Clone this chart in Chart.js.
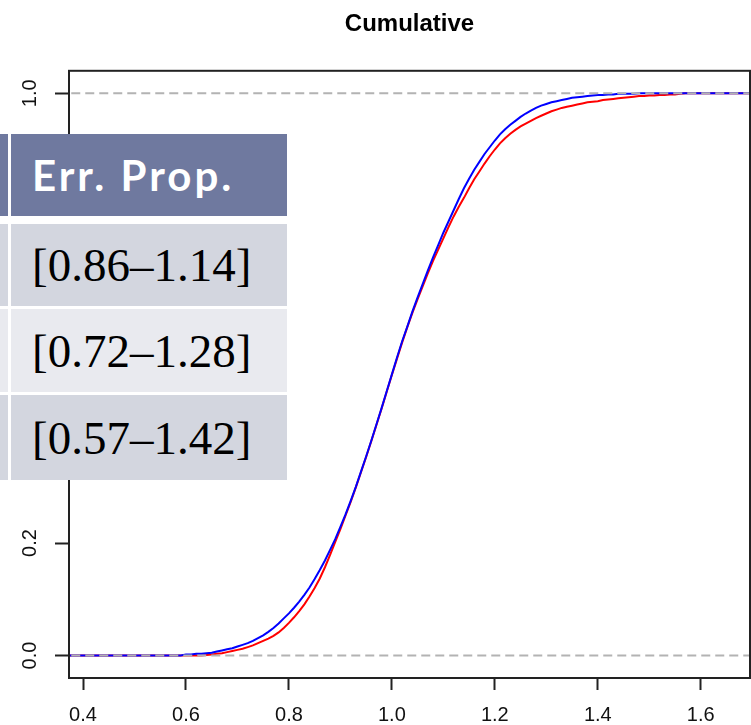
<!DOCTYPE html>
<html>
<head>
<meta charset="utf-8">
<title>Cumulative</title>
<script src="https://cdn.jsdelivr.net/npm/chart.js@4.4.1/dist/chart.umd.min.js"></script>
<style>
  html, body { margin: 0; padding: 0; background: #fff; }
  #wrap { position: relative; width: 751px; height: 725px; overflow: hidden; }
  #cdfChart { position: absolute; left: 0; top: 0; }
  #errTable { position: absolute; left: 0; top: 134px; width: 287px; height: 346px; background: #fff; }
  .cell { position: absolute; display: flex; align-items: center; box-sizing: border-box; padding-left: 21px; white-space: nowrap; }
  .stub { position: absolute; left: 0; width: 8px; }
  .head { background: #6f799f; color: #fff; font: bold 42px Lato, "Open Sans", sans-serif; letter-spacing: 3px; }
  .dark { background: #d3d6df; }
  .light { background: #e9eaef; }
  .val { color: #000; font: 47px "Liberation Serif", "Times New Roman", serif; }
</style>
</head>
<body>
<div id="wrap">
  <canvas id="cdfChart" width="751" height="725"></canvas>
  <div id="errTable"></div>
</div>
<script>
// axis ranges and ticks
const xMin = 0.3728, xMax = 1.6957;
const yMin = -0.04, yMax = 1.04;
const xTicks = [0.4, 0.6, 0.8, 1.0, 1.2, 1.4, 1.6];
const yTicks = [0.0, 0.2, 0.4, 0.6, 0.8, 1.0];
const refLevels = [0, 1];

// sample points of the two empirical CDFs
const cdfX = [
  0.37, 0.58, 0.59, 0.60, 0.61, 0.62, 0.63, 0.64, 0.65, 0.66, 0.67,
  0.68, 0.69, 0.70, 0.71, 0.72, 0.73, 0.74, 0.75, 0.76, 0.77,
  0.78, 0.79, 0.80, 0.81, 0.82, 0.83, 0.84, 0.85, 0.86, 0.87,
  0.88, 0.89, 0.90, 0.91, 0.92, 0.93, 0.94, 0.95, 0.96, 0.97,
  0.98, 0.99, 1.00, 1.01, 1.02, 1.03, 1.04, 1.05, 1.06, 1.07,
  1.08, 1.09, 1.10, 1.11, 1.12, 1.13, 1.14, 1.15, 1.16, 1.17,
  1.18, 1.19, 1.20, 1.21, 1.22, 1.23, 1.24, 1.25, 1.26, 1.27,
  1.28, 1.29, 1.30, 1.31, 1.32, 1.33, 1.34, 1.35, 1.36, 1.37,
  1.38, 1.39, 1.40, 1.41, 1.42, 1.43, 1.44, 1.45, 1.46, 1.47,
  1.48, 1.49, 1.50, 1.51, 1.52, 1.53, 1.54, 1.55, 1.56, 1.57,
  1.58, 1.70
];
const blueCdf = [
  0.000, 0.000, 0.000, 0.002, 0.002, 0.003, 0.003, 0.004, 0.005, 0.007, 0.009,
  0.011, 0.013, 0.016, 0.019, 0.022, 0.026, 0.031, 0.036, 0.042, 0.049,
  0.057, 0.066, 0.075, 0.085, 0.096, 0.108, 0.121, 0.136, 0.152, 0.169,
  0.188, 0.207, 0.229, 0.251, 0.275, 0.300, 0.327, 0.354, 0.382, 0.411,
  0.440, 0.470, 0.500, 0.530, 0.559, 0.585, 0.612, 0.637, 0.661, 0.685,
  0.708, 0.730, 0.752, 0.772, 0.792, 0.812, 0.831, 0.848, 0.864, 0.878,
  0.892, 0.904, 0.916, 0.927, 0.936, 0.944, 0.951, 0.958, 0.964, 0.969,
  0.974, 0.978, 0.981, 0.984, 0.986, 0.988, 0.990, 0.992, 0.993, 0.994,
  0.995, 0.996, 0.997, 0.997, 0.998, 0.998, 0.999, 0.999, 0.999, 0.999,
  1.000, 1.000, 1.000, 1.000, 1.000, 1.000, 1.000, 1.000, 1.000, 1.000,
  1.000, 1.000
];
const redCdf = [
  0.000, 0.000, 0.000, 0.000, 0.000, 0.000, 0.000, 0.001, 0.002, 0.003, 0.004,
  0.006, 0.008, 0.010, 0.012, 0.015, 0.018, 0.022, 0.026, 0.030, 0.035,
  0.041, 0.049, 0.058, 0.068, 0.079, 0.091, 0.105, 0.120, 0.137, 0.157,
  0.179, 0.202, 0.225, 0.249, 0.273, 0.299, 0.326, 0.353, 0.381, 0.410,
  0.439, 0.469, 0.499, 0.528, 0.557, 0.584, 0.610, 0.634, 0.657, 0.680,
  0.702, 0.722, 0.742, 0.762, 0.781, 0.798, 0.814, 0.831, 0.847, 0.861,
  0.875, 0.888, 0.900, 0.911, 0.920, 0.928, 0.935, 0.941, 0.946, 0.951,
  0.956, 0.960, 0.964, 0.968, 0.971, 0.974, 0.976, 0.978, 0.980, 0.982,
  0.984, 0.985, 0.986, 0.988, 0.989, 0.990, 0.991, 0.992, 0.993, 0.994,
  0.995, 0.995, 0.996, 0.996, 0.997, 0.997, 0.998, 0.998, 0.999, 1.000,
  1.000, 1.000
];

// overlay table text
const tableHead = 'Err. Prop.';
const tableRows = ['[0.86\u20131.14]', '[0.72\u20131.28]', '[0.57\u20131.42]'];

const sans = '"Liberation Sans", Arial, Helvetica, sans-serif';

function toPoints(xs, ys) {
  return xs.map((x, i) => ({ x: x, y: ys[i] }));
}

function fixedTicks(values) {
  return scale => { scale.ticks = values.map(v => ({ value: v })); };
}

// plot box + rotated y labels, drawn like base R graphics
const frameAndYLabels = {
  id: 'frameAndYLabels',
  afterDraw(chart) {
    const { ctx, chartArea: a, scales } = chart;
    ctx.save();
    ctx.strokeStyle = '#222';
    ctx.lineWidth = 2;
    ctx.strokeRect(a.left, a.top, a.right - a.left, a.bottom - a.top);
    ctx.fillStyle = '#111';
    ctx.font = '20px ' + sans;
    ctx.textAlign = 'center';
    ctx.textBaseline = 'middle';
    yTicks.forEach(v => {
      const py = scales.y.getPixelForValue(v);
      ctx.save();
      ctx.translate(30, py);
      ctx.rotate(-Math.PI / 2);
      ctx.fillText(v.toFixed(1), 0, 0);
      ctx.restore();
    });
    ctx.restore();
  }
};

const refDatasets = refLevels.map(lv => ({
  data: [{ x: xMin - 0.05, y: lv }, { x: xMax + 0.05, y: lv }],
  borderColor: '#b3b3b3',
  borderWidth: 2,
  borderDash: [9, 5],
  pointRadius: 0,
  order: 0
}));

new Chart(document.getElementById('cdfChart'), {
  type: 'line',
  data: {
    datasets: [
      ...refDatasets,
      {
        label: 'blue',
        data: toPoints(cdfX, blueCdf),
        borderColor: '#0000ff',
        borderWidth: 2,
        pointRadius: 0,
        tension: 0,
        order: 1
      },
      {
        label: 'red',
        data: toPoints(cdfX, redCdf),
        borderColor: '#ff0000',
        borderWidth: 2,
        pointRadius: 0,
        tension: 0,
        order: 2
      }
    ]
  },
  options: {
    responsive: false,
    animation: false,
    devicePixelRatio: 1,
    layout: { padding: { top: 0, right: 1, bottom: 0, left: 0 } },
    plugins: {
      legend: { display: false },
      tooltip: { enabled: false },
      title: {
        display: true,
        text: 'Cumulative',
        fullSize: false,
        color: '#000',
        font: { family: sans, size: 24, weight: 'bold', lineHeight: 1.2 },
        padding: { top: 10, bottom: 32 }
      }
    },
    scales: {
      x: {
        type: 'linear',
        min: xMin,
        max: xMax,
        afterBuildTicks: fixedTicks(xTicks),
        afterFit: s => { s.height = 47; },
        grid: { drawOnChartArea: false, drawTicks: true, tickLength: 12, tickColor: '#222', tickWidth: 2 },
        border: { display: true, color: '#222', width: 2 },
        ticks: {
          color: '#111',
          font: { family: sans, size: 20 },
          padding: 13,
          maxRotation: 0,
          autoSkip: false,
          callback: v => v.toFixed(1)
        }
      },
      y: {
        type: 'linear',
        min: yMin,
        max: yMax,
        afterBuildTicks: fixedTicks(yTicks),
        afterFit: s => { s.width = 69; },
        grid: { drawOnChartArea: false, drawTicks: true, tickLength: 14, tickColor: '#222', tickWidth: 2 },
        border: { display: true, color: '#222', width: 2 },
        ticks: { display: false }
      }
    }
  },
  plugins: [frameAndYLabels]
});

// table laid over the left part of the plot
const table = document.getElementById('errTable');
const rowBoxes = [
  { top: 0, height: 82, cls: 'head' },
  { top: 90, height: 82, cls: 'dark' },
  { top: 175, height: 83, cls: 'light' },
  { top: 261, height: 85, cls: 'dark' }
];
[tableHead, ...tableRows].forEach((txt, i) => {
  const b = rowBoxes[i];
  const stub = document.createElement('div');
  stub.className = 'stub ' + b.cls;
  stub.style.top = b.top + 'px';
  stub.style.height = b.height + 'px';
  table.appendChild(stub);
  const cell = document.createElement('div');
  cell.className = 'cell ' + b.cls + (i ? ' val' : '');
  cell.style.left = '11px';
  cell.style.width = '276px';
  cell.style.top = b.top + 'px';
  cell.style.height = b.height + 'px';
  cell.textContent = txt;
  table.appendChild(cell);
});
</script>
</body>
</html>
